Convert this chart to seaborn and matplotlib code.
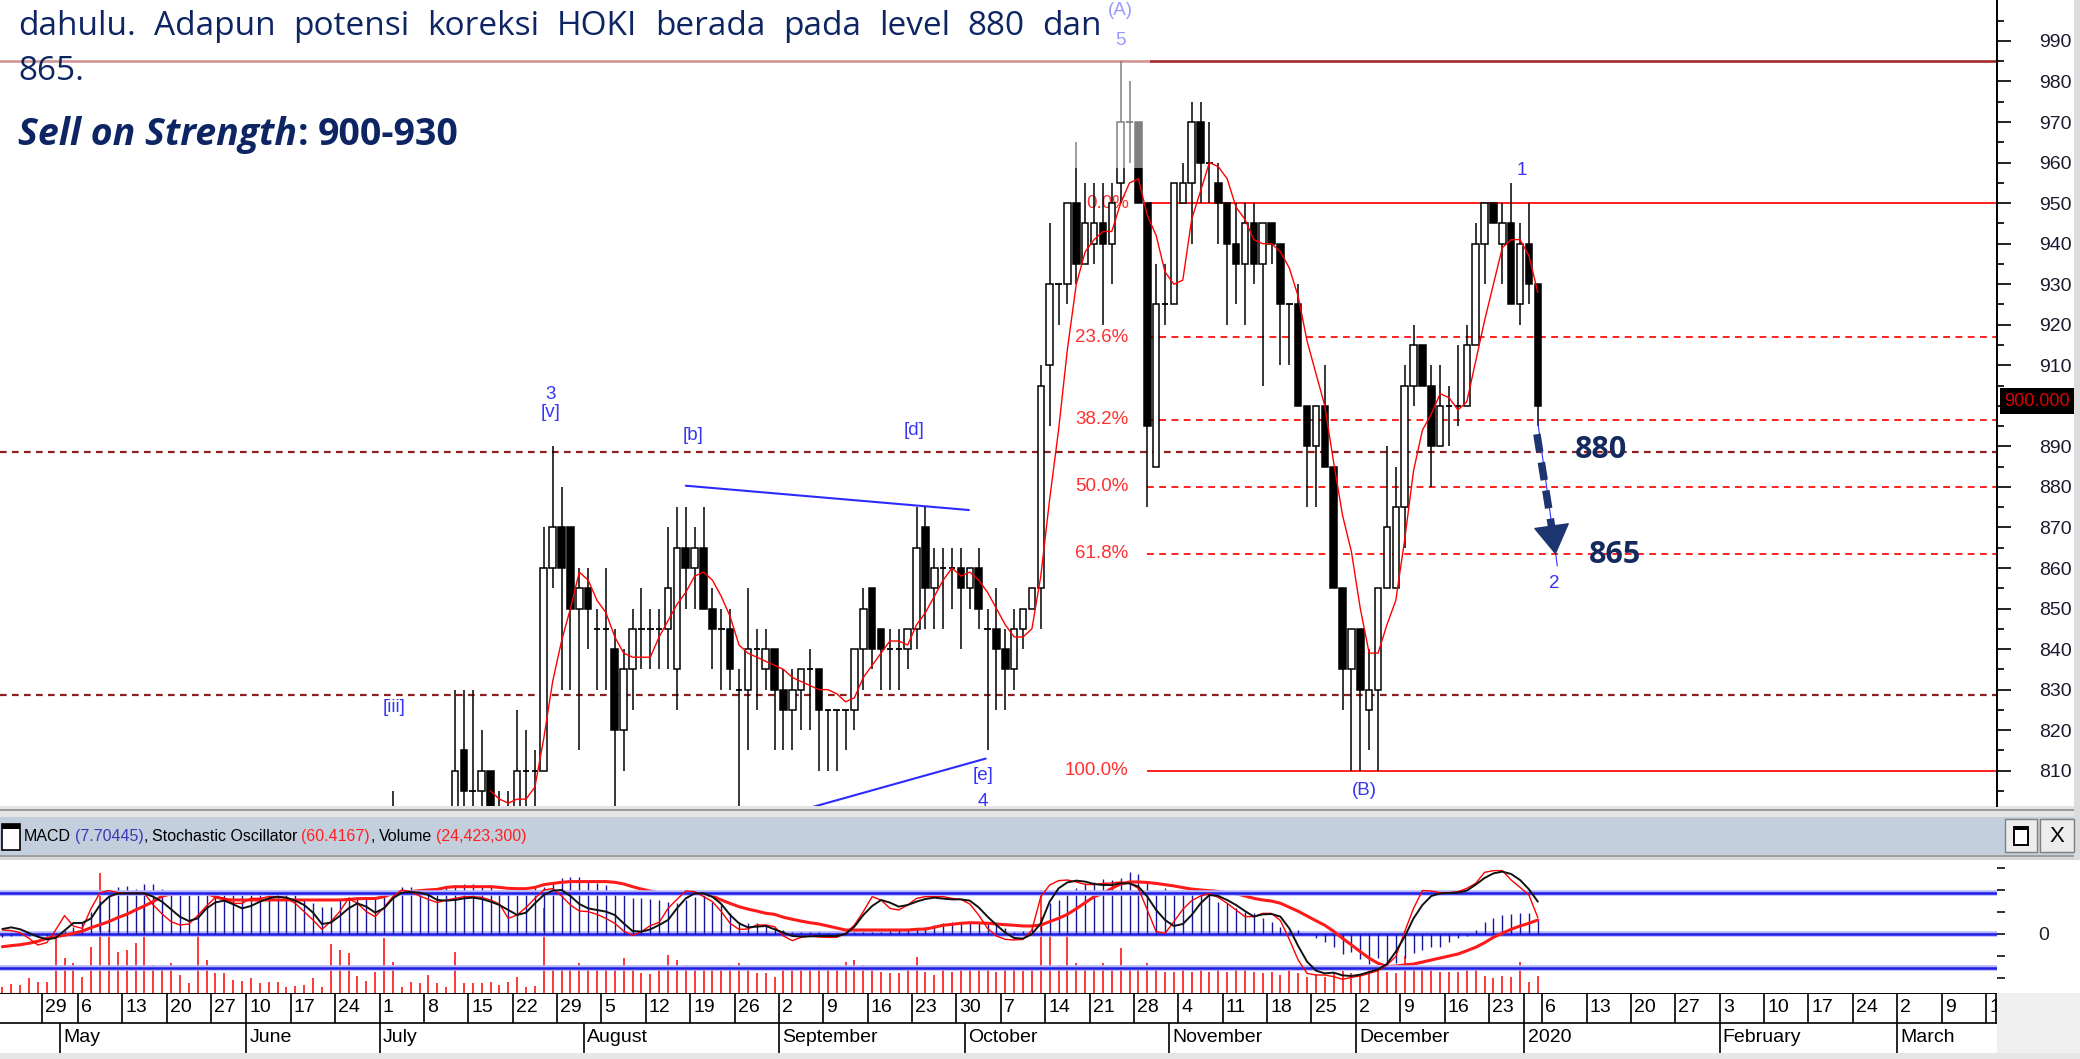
import matplotlib
matplotlib.use('Agg')
import numpy as np
import pandas as pd
import seaborn as sns
import matplotlib.pyplot as plt
from matplotlib.patches import Rectangle

sns.set_theme(style='white')
plt.rcParams['font.family'] = ['Liberation Sans', 'DejaVu Sans']

W, H = 2080, 1059
nan = np.nan

# ---- trading calendar shown on the chart
holidays = ['2019-05-01', '2019-05-30', '2019-06-03', '2019-06-04', '2019-06-05',
            '2019-06-06', '2019-06-07', '2019-12-24', '2019-12-25', '2019-12-31', '2020-01-01']
trade_days = pd.bdate_range('2019-04-22', '2020-01-03', freq='C', holidays=holidays)
future_days = pd.bdate_range('2020-01-06', '2020-03-20')
hidden_week_ticks = [pd.Timestamp('2019-12-30')]

# ---- daily candles (index 44 .. 173 = trading day number)
candle_start = 44
opens = [795, nan, nan, nan, nan, nan, nan,
         795, 815, 805, 805, 810, 800, 800, 795, 810, 810,
         810, 860, 870, 870, 850, 855, 845, 845, 840, 820,
         835, 845, 845, 845, 845, 835, 865, 860, 865, 850,
         845, 845, 830, 830, 840, 835, 840, 830, 825, 830,
         835, 835, 825, 825, 825, 825, 840, 855, 845, 840,
         840, 840, 845, 870, 855, 860, 860, 860, 855, 860,
         845, 845, 840, 835, 845, 850, 855, 910, 930, 930,
         950, 935, 940, 945, 940, 955, 970, 970, 950, 885,
         925, 925, 950, 955, 970, 960, 955, 950, 940, 935,
         945, 935, 945, 940, 925, 925, 900, 890, 900, 885,
         855, 835, 845, 825, 830, 855, 855, 875, 905, 915,
         905, 890, 900, 900, 900, 915, 940, 950, 940, 945,
         925, 940, 930]
highs = [805, nan, nan, nan, nan, nan, nan,
         830, 830, 830, 820, 810, 805, 805, 825, 820, 815,
         870, 890, 880, 870, 860, 860, 850, 860, 845, 840,
         850, 855, 850, 850, 870, 875, 875, 870, 875, 855,
         850, 850, 835, 855, 845, 845, 840, 835, 835, 835,
         840, 835, 825, 825, 825, 840, 855, 855, 845, 845,
         845, 845, 875, 875, 865, 865, 865, 865, 860, 865,
         850, 855, 845, 850, 850, 855, 910, 945, 930, 950,
         965, 955, 955, 955, 955, 985, 980, 970, 950, 935,
         935, 955, 960, 975, 975, 970, 960, 950, 950, 950,
         950, 945, 945, 940, 925, 930, 900, 900, 910, 885,
         855, 845, 845, 840, 855, 890, 885, 910, 920, 915,
         910, 910, 905, 915, 920, 945, 950, 950, 950, 955,
         945, 950, 930]
lows = [790, nan, nan, nan, nan, nan, nan,
        795, 795, 795, 795, 790, 790, 790, 790, 800, 800,
        810, 855, 830, 830, 815, 840, 830, 830, 800, 810,
        825, 835, 835, 835, 835, 825, 850, 850, 850, 835,
        830, 830, 800, 815, 825, 830, 815, 815, 815, 820,
        820, 810, 810, 810, 815, 820, 830, 835, 830, 830,
        830, 835, 840, 845, 845, 845, 850, 840, 850, 845,
        815, 825, 825, 830, 840, 850, 845, 895, 920, 925,
        930, 935, 935, 920, 930, 950, 960, 950, 875, 885,
        920, 925, 950, 940, 950, 950, 940, 920, 925, 920,
        930, 905, 935, 910, 910, 900, 875, 875, 885, 855,
        825, 810, 810, 815, 810, 855, 855, 865, 900, 905,
        880, 890, 890, 895, 900, 915, 930, 945, 930, 925,
        920, 925, 895]
closes = [795, nan, nan, nan, nan, nan, nan,
          810, 805, 805, 810, 795, 800, 800, 810, 810, 810,
          860, 870, 860, 850, 855, 850, 845, 845, 820, 835,
          845, 845, 845, 845, 855, 865, 860, 865, 850, 845,
          845, 835, 830, 840, 840, 840, 830, 825, 830, 835,
          835, 825, 825, 825, 825, 840, 850, 840, 840, 840,
          840, 845, 865, 855, 860, 860, 860, 855, 860, 850,
          845, 840, 835, 845, 850, 855, 905, 930, 930, 950,
          935, 945, 945, 940, 950, 970, 970, 950, 895, 925,
          925, 955, 955, 970, 960, 960, 950, 940, 935, 945,
          935, 945, 940, 925, 925, 900, 890, 900, 885, 855,
          835, 845, 830, 830, 855, 870, 875, 905, 915, 905,
          890, 900, 900, 900, 915, 940, 950, 945, 945, 925,
          940, 930, 900]
ma_window = 5

# ---- indicator panel (index 0 .. 173)
volume_m = [9, 12.9, 11.4, 21, 16.2, 16.2, 78, 49.6, 42.4, 23.4,
            66.3, 171, 90, 59, 61.5, 72, 123, 40, 32.9, 42.4,
            25.7, 13.8, 87.7, 47.2, 29.1, 29.1, 18.6, 17.2, 21, 13.8,
            15.3, 15.3, 9, 10.5, 11.4, 21, 9, 69.6, 61.5, 56.7,
            24.3, 17.2, 30.5, 78, 44.8, 9, 16.2, 13.8, 25.7, 13.8,
            9, 59, 14.8, 14.8, 13.8, 16.2, 11.4, 16.2, 23.4, 9,
            9.5, 121, 37.7, 32.9, 36.7, 42.4, 35.3, 37.7, 36.7, 35.9,
            49.6, 32.9, 28.1, 27.2, 32.9, 54.4, 47.2, 40, 34.3, 35.3,
            35.3, 35.3, 40, 42.4, 35.3, 29.1, 29.1, 23.4, 33, 35.3,
            35.3, 38.6, 40, 35.3, 35.3, 44.8, 47.2, 40, 32.9, 30.5,
            29.1, 28.1, 32.9, 51, 30.5, 25.7, 37.7, 30.5, 32.9, 32.9,
            32.9, 35.3, 30.5, 35.3, 37.7, 31.9, 32.9, 147, 85, 40,
            85, 42.4, 35.3, 32.9, 42.4, 35.3, 63.8, 37.7, 35.3, 42.4,
            32.9, 30.5, 30.5, 33.8, 30.5, 35.3, 30.5, 35.3, 30.5, 32.9,
            32.9, 30.5, 28.1, 30.5, 25.7, 32.9, 28.1, 23.4, 25.7, 23.4,
            30.5, 31.9, 29.1, 27.2, 32.9, 35.3, 30.5, 28.1, 53, 35.3,
            32.9, 35.3, 30.5, 30.5, 30.5, 35.3, 36.3, 24.3, 21, 24.3,
            23.4, 44.8, 16.2, 24.4]
macd_hist = [-1.8, -1.1, -0.5, -1.1, -1.8, -1.1, 0.4, 1.8, 4, 5.9,
             12, 18, 22, 25.6, 26.4, 24.5, 27.5, 27.5, 24.5, 21.4,
             21.4, 21.4, 21.4, 21.4, 23.8, 21.4, 21.4, 21.4, 21.4, 21.4,
             21.4, 21.4, 22, 21.4, 19, 16.8, 15, 15, 19, 20.5,
             20.5, 20.5, 19, 20.5, 23.8, 25.6, 25.6, 24.5, 24.2, 25.1,
             26.4, 26.9, 27.5, 27.5, 26.9, 26.9, 24.2, 22.7, 21.4, 22.7,
             25.1, 26, 28.8, 30.6, 31.1, 31.1, 29.3, 27.8, 26.9, 24.2,
             21.4, 19.6, 19.6, 19, 18.7, 17.8, 17.2, 18.7, 20.5, 21.4,
             17.8, 15.9, 11.4, 6.8, 5.9, 5.9, 4.9, 3.5, 2.2, 1.3,
             1.3, 1.3, 1.3, 0.7, 0.7, 0.7, 1.3, 1.3, 1.3, 1.3,
             1.8, 2.2, 2.6, 3.1, 4, 4.9, 6.2, 6.8, 6.8, 6.8,
             6.8, 6.2, 4.9, 3.1, 1.3, 1.8, 4.4, 9.5, 16.8, 18.7,
             22.3, 25.1, 27.8, 28.8, 30, 29.7, 30.6, 34.3, 33, 27.8,
             22.3, 25.1, 22.3, 24.2, 22.3, 22.7, 21.4, 17.8, 16.8, 14.2,
             12.3, 11.4, 8.6, 6.8, 4, 1.3, 2.2, 0, -2.4, -4.2,
             -7, -11, -10, -13.5, -16.5, -13, -18, -16, -13.4, -10.6,
             -8.8, -7, -7, -4.2, -2.4, -1.1, 2.2, 6.8, 8.6, 10.4,
             11, 11.4, 11.7, 7.7]
macd_signal = [-7, -6.4, -5.9, -5.1, -4, -2.4, -1.5, -0.7, 0.4, 1.6,
               3.5, 5.1, 6.8, 9, 10.8, 13.2, 15.4, 17.8, 20.8, 22,
               22.3, 22.3, 22.3, 22.3, 20.5, 19, 18.7, 18.7, 18.7, 18.7,
               18.7, 18.7, 18.7, 18.7, 18.7, 18.7, 18.7, 18.7, 18.7, 19,
               19.4, 19.5, 19.5, 20.5, 22.3, 23.3, 23.3, 23.8, 24.2, 24.5,
               25.6, 26, 26, 26, 26, 26, 25.6, 25.1, 24.9, 24.9,
               25.6, 27.1, 27.8, 28.4, 28.8, 28.8, 28.8, 28.8, 28.8, 28.4,
               27.5, 26, 24.7, 23.6, 22.7, 22.3, 22.3, 22.3, 22.3, 22.3,
               20.8, 18.7, 16.8, 15, 13.7, 12.6, 11.4, 10.8, 9.2, 8.1,
               7.1, 6.2, 5.5, 4.4, 3.3, 2.2, 2.2, 2.2, 2.2, 2.2,
               2.2, 2.2, 2.2, 2.6, 2.7, 3.7, 4.8, 5.3, 5.9, 6.2,
               6.1, 5.9, 5.5, 5.1, 4.8, 4.4, 4.4, 4.9, 6.8, 8.6,
               10.8, 13.9, 17.2, 20.5, 22.3, 25.1, 27.5, 28.6, 28.6, 28.3,
               27.8, 27.1, 26.4, 25.5, 24.7, 24.2, 23.8, 23.4, 22.7, 22.2,
               20.9, 19.6, 18.7, 18.1, 16.9, 14.7, 12.5, 9.9, 7.3, 4.8,
               1.5, -2.4, -6, -9.7, -13.3, -16.1, -17.9, -17.6, -17, -16.5,
               -15.4, -14.3, -13.2, -12.1, -11, -9.2, -7.3, -4.8, -1.8, 0.4,
               2.6, 4.4, 5.9, 7.7]
stoch_k = [51.2, 52.5, 51, 48, 45, 43, 44, 50, 56, 56,
           59.7, 70.4, 77, 79.7, 79.7, 79.7, 79.7, 77, 73, 67,
           61, 57.6, 59.7, 67.7, 72.5, 73.9, 71, 67.7, 69.6, 73,
           75.7, 77, 76.3, 73.9, 70.4, 64.3, 55.2, 56.3, 61.6, 67.7,
           71.7, 69.1, 64.3, 67.7, 75.7, 80.3, 80.8, 80.3, 78.4, 74.4,
           73.9, 74.4, 75.7, 76.3, 75.2, 73.1, 70.4, 66.4, 62.4, 64.3,
           71.7, 78.4, 81.9, 82.4, 77.6, 71.2, 67.7, 66.4, 65.1, 62.4,
           55.7, 49.6, 49.1, 50.9, 54.4, 58.4, 67.7, 75.7, 79.7, 79.7,
           77, 71.2, 62.4, 55.7, 52.5, 53.1, 53.6, 51, 48.3, 45.6,
           45.1, 45.3, 45.6, 45.6, 45.6, 47.2, 53.1, 62.4, 69.6, 74.4,
           72.3, 69.1, 70.4, 73.1, 75.2, 76.3, 75.5, 74.9, 74.9, 73.9,
           68.5, 61.1, 54.4, 48.3, 44, 43.5, 47.2, 55.7, 73.1, 83.7,
           88.5, 89.9, 89.1, 87.2, 86.4, 86.4, 87.7, 87.7, 85.1, 77.1,
           66.4, 58.4, 53.6, 55.2, 62.4, 71.7, 78.4, 77.6, 74.4, 70.4,
           65.6, 61.1, 62.9, 63.2, 61.1, 51.7, 37.6, 25.1, 17.9, 15.7,
           16.3, 14.1, 13.6, 14.7, 16.8, 18.9, 23.2, 33.1, 45.1, 59.7,
           70.4, 77.6, 79.7, 80, 80.3, 81.9, 86.7, 92, 95.7, 97.1,
           95.2, 90.4, 83, 73.1]
stoch_d = [50.4, 49.9, 48.3, 43.7, 38.4, 40.3, 50.4, 61.9, 53.6, 51.7,
           67.7, 80.3, 81.9, 80.3, 79.7, 79.7, 79.7, 70.4, 63.2, 57.1,
           54.4, 55.2, 61.9, 69.6, 76.5, 76, 71.7, 71.7, 75.7, 75.7,
           77.1, 77.1, 76, 71.7, 65.1, 58.4, 50.9, 57.1, 65.1, 75.7,
           71.7, 65.1, 61.1, 68.5, 77.1, 82.4, 81.1, 77.6, 74.9, 72.3,
           74.4, 75.7, 77.1, 77.1, 76.5, 74.4, 71.2, 59.7, 62.4, 68.5,
           75.7, 82.4, 83.5, 77.6, 70.4, 65.6, 65.1, 62.9, 59.7, 55.7,
           49.6, 46.1, 49.1, 53.9, 56.5, 67.7, 74.9, 81.6, 81.1, 77.1,
           73.1, 65.1, 55.7, 50.9, 51.2, 54.4, 54.4, 53.1, 45.6, 41.9,
           44.5, 45.6, 44.8, 44.5, 44.5, 47.7, 54.4, 65.1, 77.1, 74.4,
           67.7, 66.4, 70.4, 75.7, 77.1, 77.1, 77.1, 75.7, 74.9, 71.2,
           62.4, 51.7, 45.6, 42.9, 42.4, 42.9, 50.4, 77.1, 86.4, 89.9,
           90.4, 88.8, 86.9, 86.7, 87.7, 88, 88.8, 87.7, 83.7, 66.4,
           49.1, 47.7, 57.1, 66.9, 73.9, 77.6, 79.5, 76.5, 71.7, 66.4,
           61.1, 61.1, 63.7, 63.7, 57.9, 42.9, 26.4, 15.7, 14.4, 14.4,
           13.1, 10.9, 12.5, 13.6, 15.7, 17.9, 22.4, 29.1, 49.1, 67.7,
           81.9, 81.6, 80.3, 80.3, 81.1, 83.7, 87.7, 96.5, 97.9, 97.9,
           90.4, 84.5, 78.4, 60.4]

# ---- annotations
fib_high, fib_low = 950, 810
fib_levels = [0.0, 23.6, 38.2, 50.0, 61.8, 100.0]
resistance = 985
support_lines = [888.5, 828.7]
wave_labels = ['3', '[v]', '[b]', '[d]', '[iii]', '[e]', '4', '(A)', '5', '1', '2', '(B)']
target_labels = ['880', '865']
last_price = '900.000'

NAVY = '#0D2563'
BLUE = '#3535F5'


def rect(x0, y0, x1, y1):
    return [x0 / W, 1 - y1 / H, (x1 - x0) / W, (y1 - y0) / H]


fig = plt.figure(figsize=(W / 100, H / 100), dpi=100)
fig.patch.set_facecolor('white')
renderer = fig.canvas.get_renderer()


def fbox(x0, y0, x1, y1, **kw):
    kw.setdefault('edgecolor', 'none')
    kw.setdefault('zorder', -1)
    fig.add_artist(Rectangle((x0 / W, 1 - y1 / H), (x1 - x0) / W, (y1 - y0) / H,
                             transform=fig.transFigure, **kw))


XL = (-0.27, 224.74)

# ================= price panel =================
ax = fig.add_axes(rect(0, 0, 1997, 806))
ax.set_xlim(XL)
ax.set_ylim(801.3, 1000.1)

idx = np.arange(candle_start, candle_start + len(opens))
cdf = pd.DataFrame({'open': opens, 'high': highs, 'low': lows, 'close': closes}, index=idx)
cdf['ma'] = cdf['close'].rolling(ma_window).mean()
ok = cdf.dropna(subset=['open'])

ax.vlines(ok.index, ok['low'], ok['high'], color='black', lw=1.1, zorder=3)
up = ok[ok['close'] > ok['open']]
dn = ok[ok['close'] < ok['open']]
fl = ok[ok['close'] == ok['open']]
ax.bar(up.index, up['close'] - up['open'], bottom=up['open'], width=0.74,
       facecolor='white', edgecolor='black', linewidth=1.1, zorder=4)
ax.bar(dn.index, dn['open'] - dn['close'], bottom=dn['close'], width=0.74,
       facecolor='black', edgecolor='black', linewidth=1.1, zorder=4)
ax.hlines(fl['open'], fl.index - 0.37, fl.index + 0.37, color='black', lw=1.3, zorder=4)

ma = cdf['ma'].dropna()
sns.lineplot(x=ma.index.values, y=ma.values, ax=ax, color='#FF0000', lw=1.0, zorder=5)

# horizontal levels
ax.axhline(resistance, color='#A3282C', lw=1.9, zorder=1)
for lv in support_lines:
    ax.axhline(lv, color='#8B2020', lw=1.6, ls=(0, (3, 2.4)), zorder=1)
for lvl in fib_levels:
    p = fib_high - lvl / 100 * (fib_high - fib_low)
    ls = '-' if lvl in (0.0, 100.0) else (0, (3.5, 2.8))
    ax.hlines(p, 129.0, XL[1], color='#FF2020', lw=1.4, ls=ls, zorder=1)
    ax.text(126.9, p, f'{lvl:.1f}%', ha='right', va='center', color='#FF3030',
            fontsize=13.5, zorder=2)

# triangle lines
ax.plot([77.0, 108.9], [880.3, 874.3], color='#2B2BFF', lw=1.5, zorder=2)
ax.plot([91.2, 110.8], [801.0, 813.0], color='#2B2BFF', lw=1.5, zorder=2)

# wave labels
wave_pos = [(61.8, 902.7), (61.8, 898.3), (77.8, 892.8), (102.7, 894.0), (44.1, 825.7),
            (110.5, 808.7), (110.5, 802.4), (126.0, 997.4), (126.0, 990.2), (171.2, 958.0),
            (174.9, 856.1), (153.5, 805.1)]
for lab, (xi, yp) in zip(wave_labels, wave_pos):
    ax.text(xi, yp, lab, ha='center', va='center', color=BLUE, fontsize=13.5,
            zorder=6, clip_on=True)

# projected move arrow
ax.plot([173.0, 175.2], [896.0, 860.5], color='#3030FF', lw=0.8, zorder=6)
ax.plot([172.9, 174.75], [893.0, 867.5], color='#1C3470', lw=5.4,
        dashes=(2.4, 1.4), solid_capstyle='butt', zorder=7)
ax.annotate('', xy=(175.05, 862.6), xytext=(174.7, 868.0),
            arrowprops=dict(arrowstyle='-|>,head_length=0.9,head_width=0.55',
                            color='#1C3470', lw=1, mutation_scale=22), zorder=7)
for lab, (xi, yp) in zip(target_labels, [(177.2, 889.1), (178.7, 863.3)]):
    ax.text(xi, yp, lab, ha='left', va='center', color='#14295E', fontsize=22,
            fontweight='bold', family=['Open Sans', 'DejaVu Sans'], zorder=7)

ax.yaxis.tick_right()
major = np.arange(810, 1000, 10)
ax.set_yticks(major)
ax.set_yticklabels(['' if v == 900 else str(v) for v in major])
ax.set_yticks(np.arange(805, 1000, 10), minor=True)
ax.tick_params(axis='y', which='major', right=True, length=10, width=1.3, color='#111',
               pad=20, labelsize=14, labelcolor='#1A1A2E')
ax.tick_params(axis='y', which='minor', right=True, length=5, width=1.3, color='#111')
ax.set_xticks([])
for s in ['top', 'left', 'bottom']:
    ax.spines[s].set_visible(False)
ax.spines['right'].set_color('black')
ax.spines['right'].set_linewidth(1.4)
ax.set_xlabel('')
ax.set_ylabel('')

fig.text(2037 / W, 1 - 401 / H, last_price, ha='center', va='center', color='#E00000',
         fontsize=13, zorder=10,
         bbox=dict(facecolor='black', edgecolor='none', boxstyle='square,pad=0.25'))

# ================= indicator panel =================
ind_rect = rect(0, 860, 1997, 993)
days = np.arange(len(volume_m))

ax_v = fig.add_axes(ind_rect)
ax_v.set_xlim(XL)
ax_v.set_ylim(0, 190.2)
ax_v.vlines(days, 0, volume_m, color='#FF0000', lw=1.1)
ax_v.axis('off')

ax_m = fig.add_axes(ind_rect)
ax_m.patch.set_alpha(0)
ax_m.set_xlim(XL)
ax_m.set_ylim(-32.42, 40.66)
ax_m.axhline(0, color='#B4B4FF', lw=4.0, zorder=1)
ax_m.axhline(0, color='#1E1EE6', lw=1.8, zorder=2)
ax_m.vlines(days, 0, macd_hist, color='#15159C', lw=1.0, zorder=3)
sns.lineplot(x=days, y=macd_signal, ax=ax_m, color='#FF1A1A', lw=2.2, zorder=5)
ax_m.yaxis.tick_right()
ax_m.set_yticks([-24, -12, 0, 12, 24, 36])
ax_m.set_yticklabels(['', '', '0', '', '', ''])
ax_m.tick_params(axis='y', right=True, length=6, width=1.3, color='#222', pad=24,
                 labelsize=14, labelcolor='#222')
ax_m.set_xticks([])
for s in ax_m.spines.values():
    s.set_visible(False)
ax_m.set_xlabel('')
ax_m.set_ylabel('')

ax_s = fig.add_axes(ind_rect)
ax_s.patch.set_alpha(0)
ax_s.set_xlim(XL)
ax_s.set_ylim(0, 106.4)
for lv in (80, 20):
    ax_s.axhline(lv, color='#B4B4FF', lw=4.0, zorder=1)
    ax_s.axhline(lv, color='#1E1EE6', lw=1.8, zorder=2)
sns.lineplot(x=days, y=stoch_d, ax=ax_s, color='#FF0000', lw=1.0, zorder=4)
sns.lineplot(x=days, y=stoch_k, ax=ax_s, color='#111111', lw=1.4, zorder=4)
ax_s.axis('off')

# ================= date axis =================
all_days = trade_days.append(future_days)
ax_d = fig.add_axes(rect(0, 993, 1997, 1053))
ax_d.set_xlim(XL)
ax_d.set_ylim(0, 2)
ax_d.axis('off')
prev = None
for k, d in enumerate(all_days):
    if prev is not None:
        new_week = d.weekday() < prev.weekday() or (d - prev).days >= 7
        new_month = d.month != prev.month
        if new_week and d not in hidden_week_ticks:
            ax_d.vlines(k - 0.5, 1, 2, color='black', lw=1.2)
            ax_d.text(k - 0.15, 1.5, str(d.day), ha='left', va='center', fontsize=14,
                      color='black', clip_on=True)
        if new_month:
            hi = 2 if d.month == 1 else 1
            ax_d.vlines(k - 0.5, 0, hi, color='black', lw=1.2)
            name = str(d.year) if d.month == 1 else d.strftime('%B')
            ax_d.text(k - 0.15, 0.5, name, ha='left', va='center', fontsize=14,
                      color='black', clip_on=True)
    prev = d
ax_d.axhline(2, color='black', lw=1.4)
ax_d.axhline(1, color='black', lw=1.2)
ax_d.axvline(XL[1] - 0.08, ymin=0.5, ymax=1, color='black', lw=1.2)

# ================= window chrome =================
fbox(0, 806, W, 817, facecolor='#E4E4E4')
fbox(0, 808.5, W, 810.5, facecolor='#9A9A9A')
fbox(0, 817, W, 855, facecolor='#C3CFDD')
fbox(0, 855, W, 860, facecolor='#D6D6D6')
fbox(0, 855, W, 856.5, facecolor='#A0A0A0')
fbox(1997, 993, W, 1059, facecolor='#EFEFEF')
fbox(0, 1053, W, 1059, facecolor='#E6E6E6')
fbox(2074, 0, W, 860, facecolor='#DCDCDC')

# title bar icon + buttons
fbox(2, 824, 20, 850, facecolor='white', edgecolor='black', lw=1.2, zorder=2)
fbox(2, 824, 20, 829, facecolor='black', zorder=3)
fbox(2005, 819, 2037, 852, facecolor='#ECECEC', edgecolor='#808080', lw=1.0, zorder=2)
fbox(2014, 827, 2028, 845, facecolor='white', edgecolor='black', lw=1.4, zorder=3)
fbox(2014, 827, 2028, 830, facecolor='black', zorder=3)
fbox(2040, 819, 2074, 852, facecolor='#ECECEC', edgecolor='#808080', lw=1.0, zorder=2)
fig.text(2057 / W, 1 - 836 / H, 'X', ha='center', va='center', fontsize=16, color='black',
         zorder=4)


def put_segments(x_px, y_px, segments, gap_px, **kw):
    x = x_px
    for text, color, gap in segments:
        t = fig.text(x / W, 1 - y_px / H, text, color=color, ha='left', va='baseline',
                     zorder=8, **kw)
        x += t.get_window_extent(renderer=renderer).width + (gap_px if gap else 0)


title_segments = [('MACD', 'black', True), ('(7.70445)', '#3A3AB8', False),
                  (',', 'black', True), ('Stochastic Oscillator', 'black', True),
                  ('(60.4167)', '#FF2020', False), (',', 'black', True),
                  ('Volume', 'black', True), ('(24,423,300)', '#FF2020', False)]
put_segments(24, 841, title_segments, 4, fontsize=11.5,
             family=['Liberation Sans Narrow', 'Liberation Sans', 'DejaVu Sans'])

# ================= report text overlay =================
fbox(0, 0, 1150, 168, facecolor='white', alpha=0.5, zorder=5)
ofont = ['Open Sans', 'DejaVu Sans']
line1 = ['dahulu.', 'Adapun', 'potensi', 'koreksi', 'HOKI', 'berada', 'pada', 'level',
         '880', 'dan']
words = [fig.text(0, 1 - 35 / H, w_, ha='left', va='baseline', fontsize=24, color=NAVY,
                  family=ofont, zorder=8) for w_ in line1]
widths = [t.get_window_extent(renderer=renderer).width for t in words]
left, right = 18, 1102
gap = (right - left - sum(widths)) / (len(words) - 1)
x = left
for t, wd in zip(words, widths):
    t.set_x(x / W)
    x += wd + gap
fig.text(18 / W, 1 - 80 / H, '865.', ha='left', va='baseline', fontsize=24, color=NAVY,
         family=ofont, zorder=8)
t = fig.text(18 / W, 1 - 145 / H, 'Sell on Strength', ha='left', va='baseline',
             fontsize=27, color=NAVY, family=ofont, fontweight='bold', fontstyle='italic',
             zorder=8)
x_after = 18 + t.get_window_extent(renderer=renderer).width + 1
put_segments(x_after, 145, [(':', NAVY, True), ('900-930', NAVY, False)], 9,
             fontsize=27, fontweight='bold', family=ofont)

fig.savefig('out.png', dpi=100, facecolor='white')
